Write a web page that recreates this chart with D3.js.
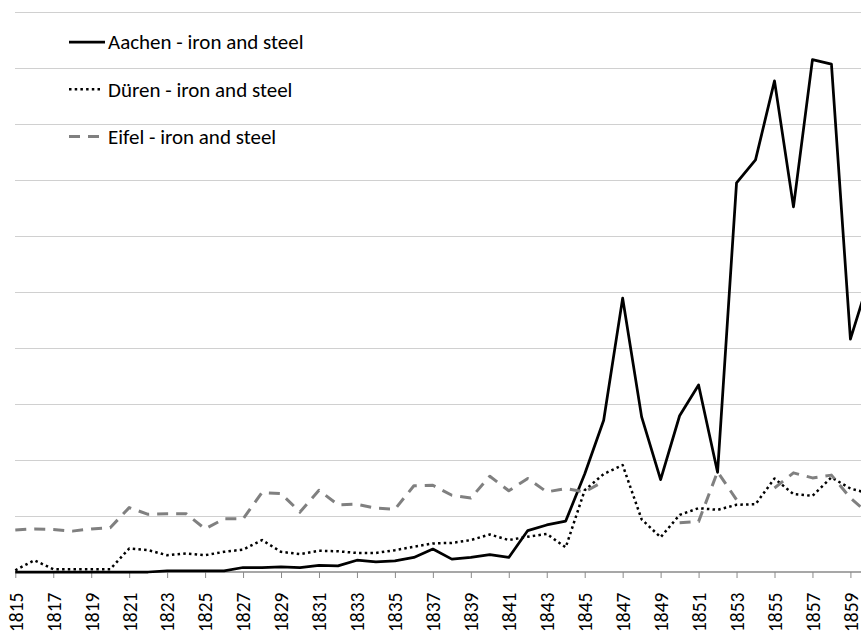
<!DOCTYPE html>
<html>
<head>
<meta charset="utf-8">
<script src="https://cdn.jsdelivr.net/npm/d3@7"></script>
<style>
  body { margin: 0; background: #fff; }
  svg { display: block; }
  text { font-family: Carlito, Lato, "Open Sans", sans-serif; fill: #000; }
</style>
</head>
<body>
<svg></svg>
<script>
// values (one gridline = 100 units)
var years = [1815, 1816, 1817, 1818, 1819, 1820, 1821, 1822, 1823, 1824,
             1825, 1826, 1827, 1828, 1829, 1830, 1831, 1832, 1833, 1834,
             1835, 1836, 1837, 1838, 1839, 1840, 1841, 1842, 1843, 1844,
             1845, 1846, 1847, 1848, 1849, 1850, 1851, 1852, 1853, 1854,
             1855, 1856, 1857, 1858, 1859, 1860];

var aachen = [0, 0, 0, 0, 0, 0, 0, 0, 2, 2,
              2, 2, 8, 8, 9, 8, 12, 11, 21, 18,
              20, 26, 41, 23, 26, 31, 26, 74, 84, 91,
              175, 271, 489, 277, 165, 279, 334, 178, 695, 736,
              877, 652, 915, 907, 416, 525];

var dueren = [3, 21, 5, 5, 5, 5, 42, 39, 30, 33,
              30, 36, 40, 57, 36, 32, 38, 37, 34, 34,
              39, 45, 51, 52, 57, 67, 57, 63, 68, 44,
              146, 175, 191, 94, 62, 102, 114, 111, 120, 121,
              167, 139, 136, 169, 149, 140];

var eifel = [75, 77, 76, 73, 77, 79, 115, 103, 104, 104,
             77, 95, 95, 142, 140, 107, 146, 120, 121, 114,
             112, 154, 155, 137, 132, 171, 145, 167, 143, 149,
             143, 162, null, null, null, 88, 90, 179, 129, null,
             150, 177, 168, 173, 132, 103];

var seriesNames = ["Aachen - iron and steel", "Düren - iron and steel", "Eifel - iron and steel"];
var tickYears = [1815, 1817, 1819, 1821, 1823, 1825, 1827, 1829, 1831, 1833, 1835, 1837,
                 1839, 1841, 1843, 1845, 1847, 1849, 1851, 1853, 1855, 1857, 1859];

var width = 861, height = 635;

var svg = d3.select("svg")
    .attr("width", width)
    .attr("height", height);

var x = d3.scaleLinear().domain([1815, 1860]).range([15.3, 869.4]);
var y = d3.scaleLinear().domain([0, 1000]).range([572, 12]);

// gridlines
svg.append("g")
    .selectAll("line")
    .data(d3.range(100, 1001, 100))
    .enter()
    .append("line")
    .attr("x1", 15)
    .attr("x2", width)
    .attr("y1", function(d) { return Math.round(y(d)) + 0.5; })
    .attr("y2", function(d) { return Math.round(y(d)) + 0.5; })
    .attr("stroke", "#d0d0d0")
    .attr("stroke-width", 1.2);

// x axis
var xAxis = svg.append("g")
    .attr("transform", "translate(0," + y(0) + ")")
    .call(d3.axisBottom(x).tickValues(tickYears).tickFormat(d3.format("d")).tickSize(6).tickSizeOuter(0));

xAxis.select(".domain").attr("stroke", "#8a8a8a").attr("stroke-width", 1.5)
    .attr("d", "M15,0H" + width);
xAxis.selectAll(".tick line").attr("stroke", "#8a8a8a").attr("stroke-width", 1);
xAxis.selectAll(".tick text")
    .attr("font-family", "Carlito, Lato, 'Open Sans', sans-serif")
    .attr("font-size", 19.5)
    .attr("fill", "#000")
    .attr("text-anchor", "end")
    .attr("dy", "0.35em")
    .attr("transform", "translate(0,20.5) rotate(-90)")
    .attr("x", 0)
    .attr("y", 0);

function makeLine(values) {
    return d3.line()
        .defined(function(d) { return d != null; })
        .x(function(d, i) { return x(years[i]); })
        .y(function(d) { return y(d); })(values);
}

var styles = [
    { data: aachen, color: "#000", width: 2.75, dash: null },
    { data: dueren, color: "#000", width: 2.5, dash: "2.5,3.2" },
    { data: eifel, color: "#808080", width: 3, dash: "11,8" }
];

svg.append("g")
    .selectAll("path")
    .data(styles)
    .enter()
    .append("path")
    .attr("d", function(s) { return makeLine(s.data); })
    .attr("fill", "none")
    .attr("stroke", function(s) { return s.color; })
    .attr("stroke-width", function(s) { return s.width; })
    .attr("stroke-dasharray", function(s) { return s.dash; })
    .attr("stroke-linejoin", "round");

// legend
var legend = svg.append("g")
    .selectAll("g")
    .data(styles)
    .enter()
    .append("g")
    .attr("transform", function(d, i) { return "translate(69," + (42 + i * 47.3) + ")"; });

legend.append("line")
    .attr("x1", 0)
    .attr("x2", function(d, i) { return i == 0 ? 36 : 34; })
    .attr("stroke", function(s) { return s.color; })
    .attr("stroke-width", function(s) { return s.width; })
    .attr("stroke-dasharray", function(s) { return s.dash; });

legend.append("text")
    .attr("x", 39)
    .attr("dy", "0.35em")
    .attr("font-size", 21)
    .text(function(d, i) { return seriesNames[i]; });
</script>
</body>
</html>
